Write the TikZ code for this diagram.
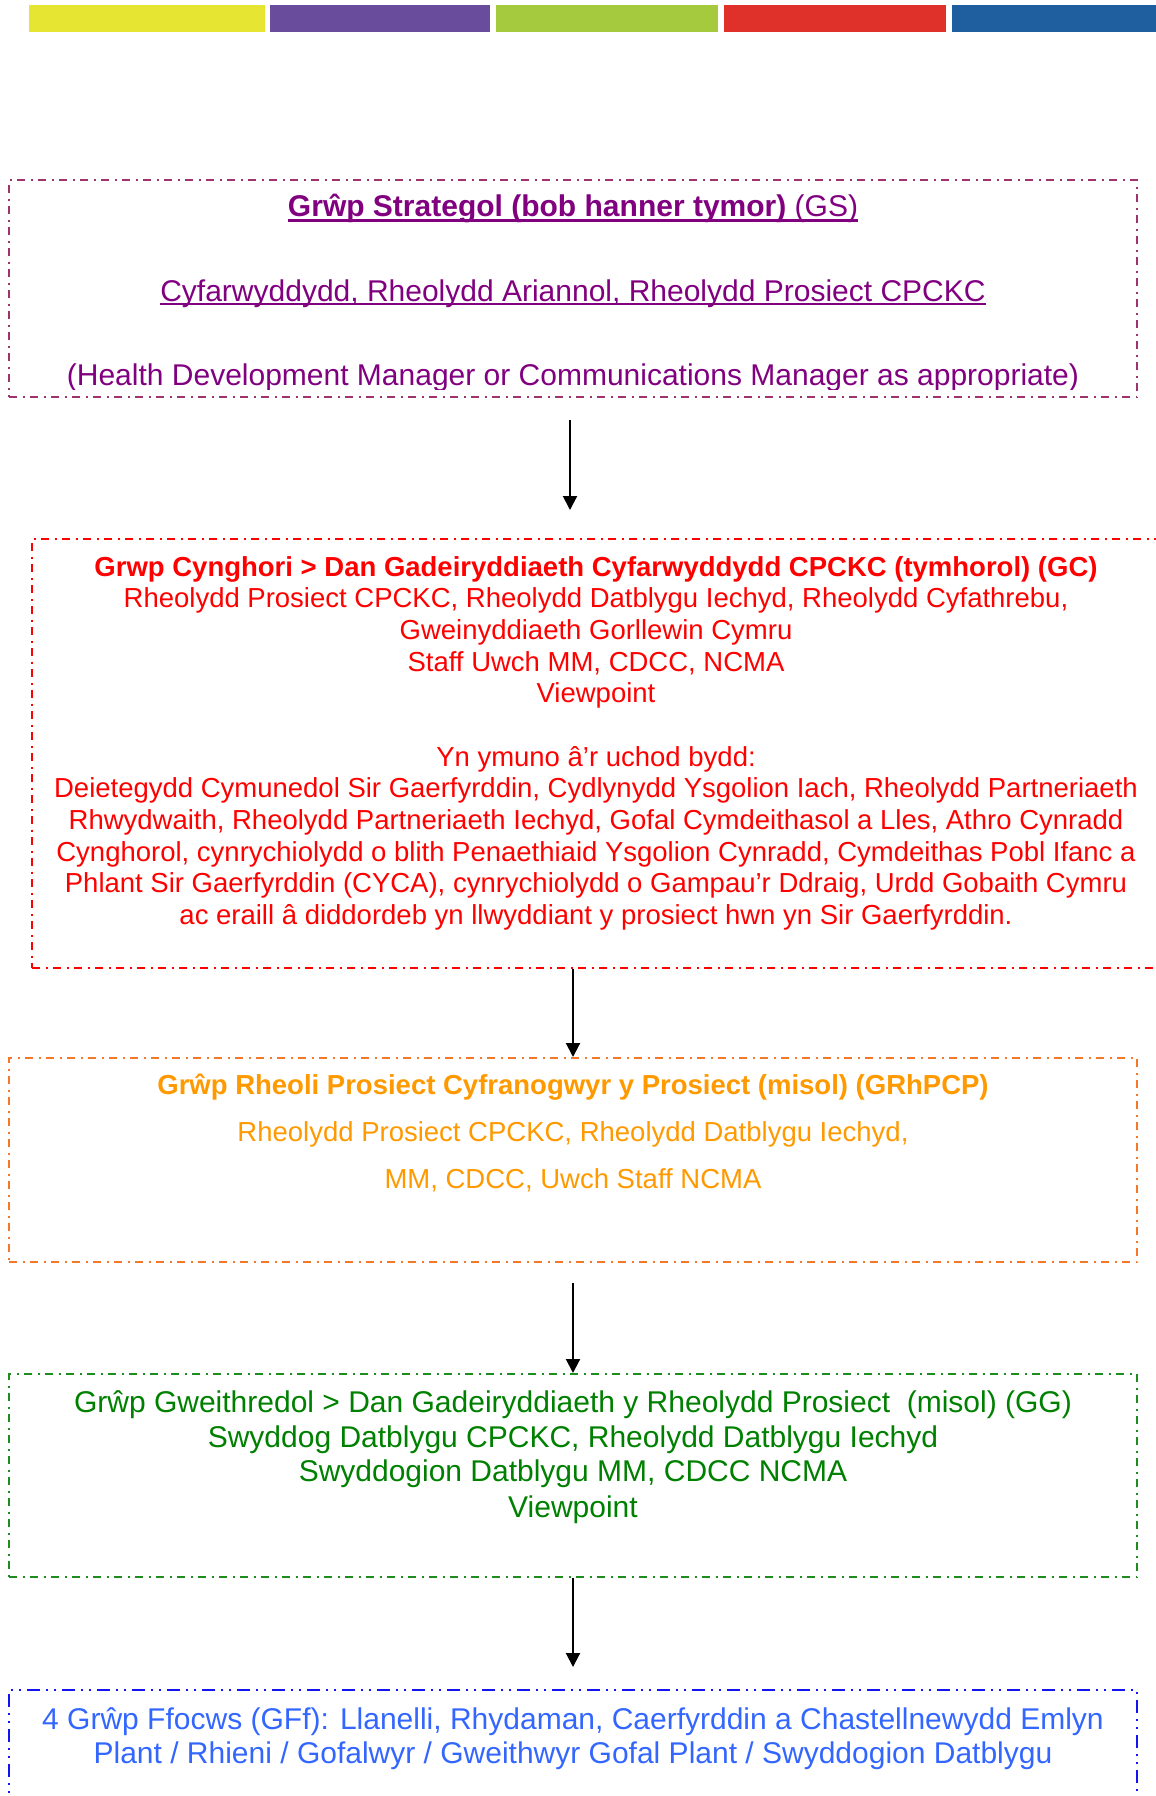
\documentclass[tikz,border=0pt]{standalone}
\usepackage{fontspec}
\setmainfont{Liberation Sans}
\usetikzlibrary{arrows.meta}
\definecolor{gsTxt}{RGB}{128,0,128}
\definecolor{gsLine}{RGB}{160,50,110}
\definecolor{gcTxt}{RGB}{255,0,0}
\definecolor{orTxt}{RGB}{255,153,0}
\definecolor{orLine}{RGB}{245,120,40}
\definecolor{grTxt}{RGB}{0,128,0}
\definecolor{grLine}{RGB}{30,140,30}
\definecolor{blTxt}{RGB}{51,102,255}
\definecolor{blLine}{RGB}{20,20,240}
\definecolor{barY}{RGB}{230,230,50}
\definecolor{barP}{RGB}{106,76,156}
\definecolor{barG}{RGB}{166,202,62}
\definecolor{barR}{RGB}{224,48,42}
\definecolor{barB}{RGB}{31,95,160}
\newsavebox\myulbox
\newcommand{\ulthick}[1]{\sbox\myulbox{#1}\rlap{\rule[-6pt]{\wd\myulbox}{2.6pt}}\usebox\myulbox}
\newcommand{\ulthin}[1]{\sbox\myulbox{#1}\rlap{\rule[-3.8pt]{\wd\myulbox}{2.2pt}}\usebox\myulbox}
\tikzset{
  boxdot/.style={line width=2pt, dash pattern=on 8pt off 5.5pt on 2pt off 5.5pt, inner sep=0pt},
  boxdd/.style={line width=2pt, dash pattern=on 13pt off 6pt on 2pt off 6pt on 2pt off 6pt, inner sep=0pt},
  conn/.style={line width=2pt, -{Triangle[length=14pt,width=14pt]}},
  txt/.style={anchor=base, inner sep=0pt},
  big/.style={font=\fontsize{30}{34}\selectfont},
  mid/.style={font=\fontsize{27.5}{31.6}\selectfont},
}
\begin{document}
\begin{tikzpicture}[x=1pt,y=-1pt]
\useasboundingbox (0,0) rectangle (1156,1796);
% colour bars
\fill[barY] (29,5) rectangle (265,32);
\fill[barP] (270,5) rectangle (490,32);
\fill[barG] (496,5) rectangle (718,32);
\fill[barR] (724,5) rectangle (946,32);
\fill[barB] (952,5) rectangle (1160,32);
% boxes
\node[boxdot, draw=gsLine, minimum width=1128pt, minimum height=217pt] (gs) at (573,288.5) {};
\node[boxdot, draw=gcTxt, minimum width=1138pt, minimum height=429pt] (gc) at (601,753.5) {};
\node[boxdot, draw=orLine, minimum width=1128pt, minimum height=204pt] (or) at (573,1160) {};
\node[boxdot, draw=grLine, minimum width=1128pt, minimum height=203pt] (gr) at (573,1475.5) {};
\node[boxdd, draw=blLine, minimum width=1128pt, minimum height=120pt] (bl) at (573,1750) {};
% GS text
\node[txt, big, text=gsTxt] (gs1) at (573,216) {\ulthick{\textbf{Grŵp Strategol (bob hanner tymor)} (GS)}};
\node[txt, big, text=gsTxt] (gs2) at (573,301) {\ulthin{Cyfarwyddydd, Rheolydd Ariannol, Rheolydd Prosiect CPCKC}};
\begin{scope}
\clip (0,0) rectangle (1156,389);
\node[txt, big, text=gsTxt] (gs3) at (573,385.5) {(Health Development Manager or Communications Manager as appropriate)};
\end{scope}
% GC text
\node[txt, mid, text=gcTxt] (gc1) at (596,576) {\textbf{Grwp Cynghori > Dan Gadeiryddiaeth Cyfarwyddydd CPCKC (tymhorol) (GC)}};
\node[txt, mid, text=gcTxt] (gc2) at (596,607) {Rheolydd Prosiect CPCKC, Rheolydd Datblygu Iechyd, Rheolydd Cyfathrebu,};
\node[txt, mid, text=gcTxt] (gc3) at (596,639) {Gweinyddiaeth Gorllewin Cymru};
\node[txt, mid, text=gcTxt] (gc4) at (596,671) {Staff Uwch MM, CDCC, NCMA};
\node[txt, mid, text=gcTxt] (gc5) at (596,702) {Viewpoint};
\node[txt, mid, text=gcTxt] (gc6) at (596,766) {Yn ymuno â’r uchod bydd:};
\node[txt, mid, text=gcTxt] (gc7) at (596,797) {Deietegydd Cymunedol Sir Gaerfyrddin, Cydlynydd Ysgolion Iach, Rheolydd Partneriaeth};
\node[txt, mid, text=gcTxt] (gc8) at (596,829) {Rhwydwaith, Rheolydd Partneriaeth Iechyd, Gofal Cymdeithasol a Lles, Athro Cynradd};
\node[txt, mid, text=gcTxt] (gc9) at (596,861) {Cynghorol, cynrychiolydd o blith Penaethiaid Ysgolion Cynradd, Cymdeithas Pobl Ifanc a};
\node[txt, mid, text=gcTxt] (gc10) at (596,892) {Phlant Sir Gaerfyrddin (CYCA), cynrychiolydd o Gampau’r Ddraig, Urdd Gobaith Cymru};
\node[txt, mid, text=gcTxt] (gc11) at (596,924) {ac eraill â diddordeb yn llwyddiant y prosiect hwn yn Sir Gaerfyrddin.};
% orange text
\node[txt, mid, text=orTxt] (or1) at (573,1094) {\textbf{Grŵp Rheoli Prosiect Cyfranogwyr y Prosiect (misol) (GRhPCP)}};
\node[txt, mid, text=orTxt] (or2) at (573,1141) {Rheolydd Prosiect CPCKC, Rheolydd Datblygu Iechyd,};
\node[txt, mid, text=orTxt] (or3) at (573,1188) {MM, CDCC, Uwch Staff NCMA};
% green text
\node[txt, big, text=grTxt] (gr1) at (573,1412) {Grŵp Gweithredol > Dan Gadeiryddiaeth y Rheolydd Prosiect\ \ (misol) (GG)};
\node[txt, big, text=grTxt] (gr2) at (573,1447) {Swyddog Datblygu CPCKC, Rheolydd Datblygu Iechyd};
\node[txt, big, text=grTxt] (gr3) at (573,1481) {Swyddogion Datblygu MM, CDCC NCMA};
\node[txt, big, text=grTxt] (gr4) at (573,1517) {Viewpoint};
% blue text
\node[txt, big, text=blTxt] (bl1) at (573,1729) {4 Grŵp Ffocws (GFf): Llanelli, Rhydaman, Caerfyrddin a Chastellnewydd Emlyn};
\node[txt, big, text=blTxt] (bl2) at (573,1763) {Plant / Rhieni / Gofalwyr / Gweithwyr Gofal Plant / Swyddogion Datblygu};
% connectors
\coordinate (a1s) at (570,420);
\coordinate (a1e) at (570,510);
\coordinate (a4e) at (573,1667);
\coordinate (a3s) at (573,1283);
\draw[conn] (a1s) -- (a1e);
\draw[conn] (gc.south -| or.north) -- (or.north);
\draw[conn] (a3s) -- (gr.north);
\draw[conn] (gr.south) -- (a4e);
\end{tikzpicture}
\end{document}
